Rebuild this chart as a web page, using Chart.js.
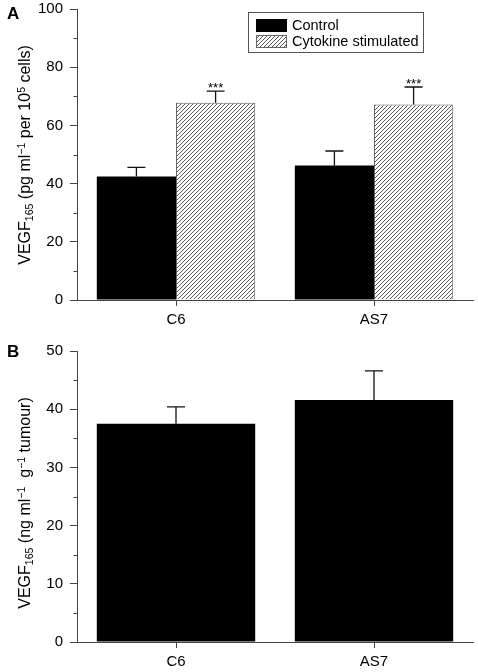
<!DOCTYPE html>
<html lang="en">
<head>
    <meta charset="UTF-8">
    <title>VEGF165 secretion</title>
    <style>
        body {
            margin: 0;
            background: #fff;
            font-family: 'Liberation Sans', Arial, sans-serif;
        }
        .wrap {
            position: relative;
            width: 478px;
            height: 672px;
            overflow: hidden;
        }
        canvas.chart {
            position: absolute;
            left: 0;
        }
        .letter {
            position: absolute;
            left: 7px;
            font-weight: bold;
            font-size: 17px;
            line-height: 17px;
        }
        .ytitle {
            position: absolute;
            left: 25px;
            white-space: nowrap;
            font-size: 16px;
            line-height: 16px;
            transform: translate(-50%, -50%) rotate(-90deg);
        }
        .ytitle sub {
            font-size: 0.66em;
            vertical-align: -0.3em;
        }
        .ytitle sup {
            font-size: 0.66em;
            vertical-align: 0.55em;
        }
        #legend {
            position: absolute;
            left: 248px;
            top: 12px;
            width: 174px;
            height: 39px;
            border: 1px solid #555;
            background: #fff;
            font-size: 14.5px;
        }
        #legend .row {
            position: absolute;
            left: 7px;
            display: flex;
            align-items: center;
        }
        #legend canvas {
            display: block;
            margin-right: 5px;
        }
    </style>
</head>
<body>
<div class="wrap">
    <!-- panel A canvas starts above the page so the 100 tick sits at y=9 -->
    <canvas id="chartA" class="chart" width="478" height="337" style="top:-7px"></canvas>
    <canvas id="chartB" class="chart" width="478" height="342" style="top:330px"></canvas>

    <div class="letter" style="top:5px">A</div>
    <div class="letter" style="top:343px">B</div>

    <div class="ytitle" style="top:155px">VEGF<sub>165</sub> (pg ml<sup>&minus;1</sup> per 10<sup>5</sup> cells)</div>
    <div class="ytitle" style="top:503px">VEGF<sub>165</sub> (ng ml<sup>&minus;1</sup>&nbsp; g<sup>&minus;1</sup> tumour)</div>

    <div id="legend"></div>
</div>

<script src="https://cdn.jsdelivr.net/npm/chart.js"></script>
<script>
    // data
    const groups = ['C6', 'AS7'];
    const seriesA = ['Control', 'Cytokine stimulated'];
    const controlA = [42.4, 46.2];
    const controlAErr = [3.2, 5.0];
    const cytokineA = [67.8, 67.2];
    const cytokineAErr = [4.0, 6.0];
    const cytokineAStars = ['***', '***'];
    const tumourB = [37.5, 41.6];
    const tumourBErr = [2.9, 5.0];

    const axisA = { max: 100, step: 20, minor: 10 };
    const axisB = { max: 50, step: 10, minor: 5 };

    const FONT = "'Liberation Sans', Arial, sans-serif";
    const AXIS = '#444';

    // diagonal hatch fill
    function hatch(ctx) {
        const s = 4;
        const c = document.createElement('canvas');
        c.width = s;
        c.height = s;
        const g = c.getContext('2d');
        g.fillStyle = '#fff';
        g.fillRect(0, 0, s, s);
        g.strokeStyle = '#5a5a5a';
        g.lineWidth = 1;
        g.beginPath();
        g.moveTo(0, s); g.lineTo(s, 0);
        g.moveTo(-1, 1); g.lineTo(1, -1);
        g.moveTo(s - 1, s + 1); g.lineTo(s + 1, s - 1);
        g.stroke();
        return ctx.createPattern(c, 'repeat');
    }

    // error bars (upper only) + significance stars
    const errorBars = {
        id: 'errorBars',
        afterDatasetsDraw(chart) {
            const ctx = chart.ctx;
            const y = chart.scales.y;
            chart.data.datasets.forEach((ds, i) => {
                if (!ds.errors) return;
                const meta = chart.getDatasetMeta(i);
                meta.data.forEach((bar, j) => {
                    const top = y.getPixelForValue(ds.data[j] + ds.errors[j]);
                    ctx.save();
                    ctx.strokeStyle = '#111';
                    ctx.lineWidth = 1.3;
                    ctx.beginPath();
                    ctx.moveTo(bar.x, bar.y);
                    ctx.lineTo(bar.x, top);
                    ctx.moveTo(bar.x - 9, top);
                    ctx.lineTo(bar.x + 9, top);
                    ctx.stroke();
                    if (ds.stars && ds.stars[j]) {
                        ctx.fillStyle = '#000';
                        ctx.font = '13px ' + FONT;
                        ctx.textAlign = 'center';
                        ctx.textBaseline = 'alphabetic';
                        ctx.fillText(ds.stars[j], bar.x, top + 1);
                    }
                    ctx.restore();
                });
            });
        }
    };

    // short minor ticks on the y axis
    const minorTicks = {
        id: 'minorTicks',
        afterDraw(chart, args, opts) {
            const ctx = chart.ctx;
            const y = chart.scales.y;
            const x0 = chart.chartArea.left;
            ctx.save();
            ctx.strokeStyle = AXIS;
            ctx.lineWidth = 1;
            ctx.beginPath();
            for (let v = opts.minor; v < opts.max; v += opts.step) {
                const py = Math.round(y.getPixelForValue(v)) + 0.5;
                ctx.moveTo(x0 - 3.5, py);
                ctx.lineTo(x0, py);
            }
            ctx.stroke();
            ctx.restore();
        }
    };

    function makeOptions(axis, padTop) {
        return {
            responsive: false,
            animation: false,
            layout: { padding: { top: padTop, right: 5, left: 0, bottom: 0 } },
            plugins: {
                legend: { display: false },
                tooltip: { enabled: false },
                minorTicks: axis
            },
            scales: {
                x: {
                    grid: { drawOnChartArea: false, offset: false, tickLength: 6, color: AXIS },
                    border: { color: AXIS, width: 1 },
                    ticks: { color: '#000', padding: 5, font: { family: FONT, size: 15 } },
                    afterFit(s) { s.height = 30; }
                },
                y: {
                    min: 0,
                    max: axis.max,
                    grid: { drawOnChartArea: false, tickLength: 7, color: AXIS },
                    border: { color: AXIS, width: 1 },
                    ticks: { stepSize: axis.step, color: '#000', padding: 7, font: { family: FONT, size: 15 } },
                    afterFit(s) { s.width = 77; }
                }
            }
        };
    }

    const ctxA = document.getElementById('chartA').getContext('2d');
    const hatchFill = hatch(ctxA);

    new Chart(ctxA, {
        type: 'bar',
        data: {
            labels: groups,
            datasets: [{
                label: seriesA[0],
                data: controlA,
                errors: controlAErr,
                backgroundColor: '#000',
                borderWidth: 0,
                categoryPercentage: 0.8,
                barPercentage: 1.0
            }, {
                label: seriesA[1],
                data: cytokineA,
                errors: cytokineAErr,
                stars: cytokineAStars,
                backgroundColor: hatchFill,
                borderColor: '#666',
                borderWidth: 1,
                categoryPercentage: 0.8,
                barPercentage: 1.0
            }]
        },
        options: makeOptions(axisA, 16),
        plugins: [errorBars, minorTicks]
    });

    new Chart(document.getElementById('chartB').getContext('2d'), {
        type: 'bar',
        data: {
            labels: groups,
            datasets: [{
                data: tumourB,
                errors: tumourBErr,
                backgroundColor: '#000',
                borderWidth: 0,
                categoryPercentage: 0.8,
                barPercentage: 1.0
            }]
        },
        options: makeOptions(axisB, 21),
        plugins: [errorBars, minorTicks]
    });

    // legend for panel A
    const legend = document.getElementById('legend');
    seriesA.forEach((name, i) => {
        const row = document.createElement('div');
        row.className = 'row';
        row.style.top = (i === 0 ? 4 : 20) + 'px';
        const sw = document.createElement('canvas');
        sw.width = 31;
        sw.height = 13;
        const g = sw.getContext('2d');
        if (i === 0) {
            g.fillStyle = '#000';
            g.fillRect(0, 0, 31, 13);
        } else {
            g.fillStyle = hatch(g);
            g.fillRect(0, 0, 31, 13);
            g.strokeStyle = '#666';
            g.strokeRect(0.5, 0.5, 30, 12);
        }
        const label = document.createElement('span');
        label.textContent = name;
        row.appendChild(sw);
        row.appendChild(label);
        legend.appendChild(row);
    });
</script>
</body>
</html>
